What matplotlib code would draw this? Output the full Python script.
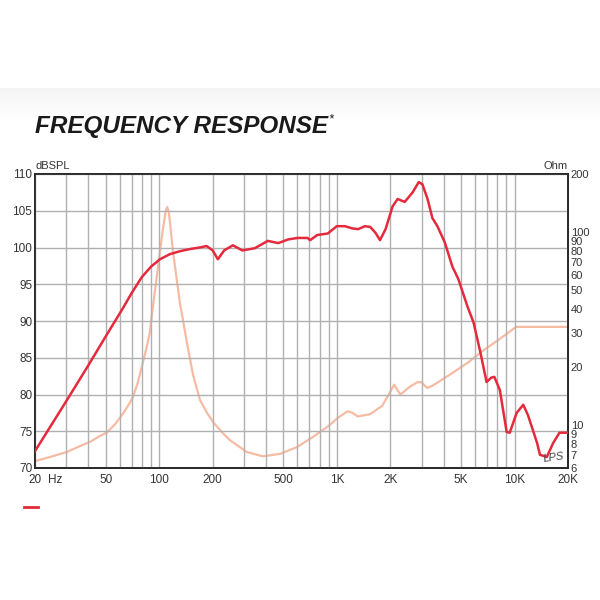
import matplotlib
matplotlib.use("Agg")
import matplotlib.pyplot as plt
import matplotlib.ticker as ticker
from matplotlib.lines import Line2D
import numpy as np

# SPL response (dB)
spl_freq = [20, 30, 40, 50, 62, 70, 80, 90, 101, 115, 131, 150, 169, 185, 200,
            214, 232, 260, 294, 345, 409, 468, 533, 600, 683, 708, 775, 889,
            999, 1110, 1220, 1320, 1440, 1540, 1650, 1750, 1880, 2060, 2200,
            2410, 2670, 2890, 3030, 3240, 3450, 3680, 4050, 4470, 4830, 5430,
            5880, 6430, 6960, 7410, 7700, 8270, 9030, 9400, 10280, 11200,
            11900, 13400, 13900, 15200, 16500, 17900, 20000]
spl_db = [72.3, 79.1, 84.0, 87.9, 91.6, 93.8, 96.0, 97.4, 98.4, 99.1, 99.5,
          99.8, 100.0, 100.2, 99.6, 98.4, 99.6, 100.3, 99.6, 99.9, 100.9,
          100.6, 101.1, 101.3, 101.3, 101.0, 101.7, 101.9, 102.9, 102.9,
          102.6, 102.5, 102.9, 102.8, 102.0, 101.0, 102.5, 105.6, 106.6,
          106.2, 107.5, 108.9, 108.6, 106.6, 104.0, 102.9, 100.7, 97.4, 95.7,
          92.0, 89.8, 85.7, 81.7, 82.3, 82.4, 80.6, 74.9, 74.8, 77.5, 78.6,
          77.2, 73.4, 71.8, 71.5, 73.4, 74.8, 74.8]

# impedance (Ohm)
imp_freq = [20, 24.3, 30.3, 35.9, 40.8, 46.2, 50.9, 56.4, 62.6, 66.8, 71.2,
            75.9, 79.7, 84.0, 88.5, 93.2, 98.8, 103.9, 108.5, 110.9, 113.3,
            115.4, 119.3, 125.7, 130.8, 136.1, 143.4, 155.1, 169.7, 185.7,
            200.8, 225.6, 249.8, 311, 383, 479, 597, 735, 910, 1010, 1150,
            1220, 1310, 1540, 1800, 1990, 2100, 2280, 2570, 2840, 2980, 3230,
            3450, 4300, 5430, 6680, 8280, 10200, 20000]
imp_ohm = [6.52, 6.84, 7.27, 7.8, 8.19, 8.77, 9.18, 10.1, 11.5, 12.6, 14.0,
           16.7, 20.0, 24.2, 30.0, 44.5, 67.5, 96.6, 127, 134.9, 127, 108.9,
           80.8, 56.4, 43.0, 35.1, 26.6, 18.2, 13.5, 11.6, 10.4, 9.2, 8.37,
           7.26, 6.9, 7.1, 7.7, 8.7, 10.0, 10.9, 11.8, 11.6, 11.1, 11.4, 12.6,
           14.8, 16.2, 14.4, 15.8, 16.7, 16.7, 15.6, 16.0, 18.2, 21, 24.4, 28,
           32.3, 32.3]

x_ticks = [20, 50, 100, 200, 500, 1000, 2000, 5000, 10000, 20000]
x_labels = ["20", "50", "100", "200", "500", "1K", "2K", "5K", "10K", "20K"]
x_grid = [20, 30, 40, 50, 60, 70, 80, 90, 100, 200, 300, 400, 500, 600, 700,
          800, 900, 1000, 2000, 3000, 4000, 5000, 6000, 7000, 8000, 9000,
          10000, 20000]
db_ticks = [70, 75, 80, 85, 90, 95, 100, 105, 110]
ohm_ticks = [6, 7, 8, 9, 10, 20, 30, 40, 50, 60, 70, 80, 90, 100, 200]

RED = "#e42a3c"
PINK = "#f7bba4"
TXT = "#333333"
FONT = "Liberation Sans"

plt.rcParams["font.family"] = [FONT, "DejaVu Sans"]

fig = plt.figure(figsize=(6, 6), dpi=100)

# faint grey band behind the title
bg = fig.add_axes([0, 0, 1, 1], zorder=-5)
grad = np.ones((600, 1))
grad[88:125, 0] = np.linspace(0.955, 1.0, 37)
bg.imshow(grad, cmap="gray", vmin=0, vmax=1, aspect="auto", extent=[0, 1, 0, 1])
bg.axis("off")

ax = fig.add_axes([35 / 600, 1 - 468 / 600, 533 / 600, 294 / 600])
ax.set_xscale("log")
ax.set_xlim(20, 20000)
ax.set_ylim(70, 110)

for f in x_grid:
    ax.axvline(f, color="#b0b0b0", lw=1.0, zorder=0)
for d in db_ticks:
    ax.axhline(d, color="#b0b0b0", lw=1.0, zorder=0)

ax2 = ax.twinx()
ax2.set_yscale("log")
ax2.set_ylim(6, 200)
ax2.plot(imp_freq, imp_ohm, color=PINK, lw=1.6, zorder=2,
         solid_joinstyle="round")

ax.set_zorder(ax2.get_zorder() + 1)
ax.patch.set_visible(False)
ax.plot(spl_freq, spl_db, color=RED, lw=1.8, zorder=3, solid_joinstyle="round")

ax.set_xticks(x_ticks)
ax.set_xticklabels(x_labels)
ax.xaxis.set_minor_locator(ticker.NullLocator())
ax.set_yticks(db_ticks)
ax.tick_params(axis="y", length=0, labelsize=8.5, labelcolor=TXT, pad=2)
ax.tick_params(axis="x", length=0, labelsize=8.5, labelcolor=TXT, pad=4)

ax2.set_yticks(ohm_ticks)
ax2.set_yticklabels([str(t) for t in ohm_ticks])
ax2.yaxis.set_minor_locator(ticker.NullLocator())
ax2.tick_params(axis="y", length=0, labelsize=8, labelcolor=TXT, pad=2)

for a in (ax, ax2):
    for s in a.spines.values():
        s.set_color("#2a2a2a")
        s.set_linewidth(1.3)

ax.text(26, -0.019, "Hz", transform=ax.get_xaxis_transform(), ha="center",
        va="top", fontsize=8.5, color=TXT)
ax.text(0.0, 1.01, "dBSPL", transform=ax.transAxes, ha="left", va="bottom",
        fontsize=8, color=TXT)
ax.text(1.0, 1.01, "Ohm", transform=ax.transAxes, ha="right", va="bottom",
        fontsize=8, color=TXT)
ax.text(16500, 71.4, "LPS", fontsize=8, style="italic", color="#444444",
        ha="center", va="center", rotation=8)

fig.text(35 / 600, 1 - 127 / 600, "FREQUENCY RESPONSE", fontsize=17.5,
         fontweight="bold", style="italic", color="#1a1a1a", ha="left",
         va="center")
fig.text(328 / 600, 1 - 119 / 600, "*", fontsize=9, style="italic",
         color="#1a1a1a", ha="left", va="center")

fig.add_artist(Line2D([24 / 600, 38 / 600], [1 - 507 / 600, 1 - 507 / 600],
                      color=RED, lw=2))

fig.savefig("out.png", dpi=100)
